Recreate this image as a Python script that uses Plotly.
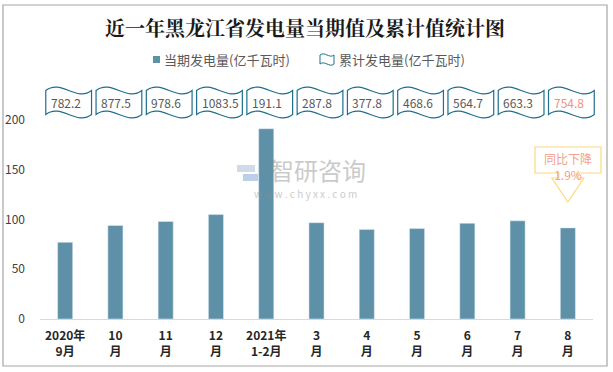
import plotly.graph_objects as go

# ---------------- data ----------------
categories = ["2020年<br>9月", "10<br>月", "11<br>月", "12<br>月", "2021年<br>1-2月",
              "3<br>月", "4<br>月", "5<br>月", "6<br>月", "7<br>月", "8<br>月"]
current_values = [77.0, 93.9, 98.0, 104.9, 191.1, 96.7, 90.0, 90.8, 96.1, 98.6, 91.5]
cumulative_values = ["782.2", "877.5", "978.6", "1083.5", "191.1", "287.8",
                     "377.8", "468.6", "564.7", "663.3", "754.8"]
y_ticks = [0, 50, 100, 150, 200]
callout_text = "同比下降<br>1.9%"
title_text = "近一年黑龙江省发电量当期值及累计值统计图"
legend_bar = "当期发电量(亿千瓦时)"
legend_flag = "累计发电量(亿千瓦时)"

# ---------------- styling / layout ----------------
W, H = 613, 372
ML, MR, MT, MB = 40, 20, 85, 53
BAR_COLOR = "#5E91A8"
FLAG_LINE = "#1F6E8C"
TEXT_GRAY = "#595959"
HIGHLIGHT = "#F4917A"
FONT = "Noto Sans CJK SC"
n = len(categories)
x_idx = list(range(n))
Y_MAX = 235

PW = W - ML - MR
PH = H - MT - MB


def px_x(px):
    return (px - ML) / PW


def px_y(py):
    return (H - MB - py) / PH


def idx_to_paper(i):
    return (i + 0.5) / n


fig = go.Figure()
fig.add_trace(go.Bar(x=x_idx, y=current_values, marker_color=BAR_COLOR, width=0.3,
                     showlegend=False, hoverinfo="y"))

shapes = []
annotations = []

# outer frame
shapes.append(dict(type="rect", xref="paper", yref="paper",
                   x0=px_x(3), x1=px_x(607), y0=px_y(366), y1=px_y(5),
                   line=dict(color="#A6A6A6", width=1.2), layer="below"))

# wave banners holding cumulative values
cat_w = 1.0 / n
for i, val in enumerate(cumulative_values):
    xc = idx_to_paper(i) + 0.07 * cat_w
    L = xc - 0.455 * cat_w
    R = xc + 0.455 * cat_w
    w = R - L
    yt, yb = px_y(90.5), px_y(114.5)
    c = px_y(0) - px_y(12)
    path = (f"M {L},{yt} C {L + w/3},{yt + c} {L + 2*w/3},{yt - c} {R},{yt} "
            f"L {R},{yb} C {L + 2*w/3},{yb - c} {L + w/3},{yb + c} {L},{yb} Z")
    shapes.append(dict(type="path", xref="paper", yref="paper", path=path,
                       line=dict(color=FLAG_LINE, width=1.2), fillcolor="white"))
    annotations.append(dict(xref="paper", yref="paper", x=L + 0.06 * cat_w, y=px_y(103),
                            text=val, showarrow=False, xanchor="left", yanchor="middle",
                            font=dict(family=FONT, size=12,
                                      color=HIGHLIGHT if i == n - 1 else TEXT_GRAY)))

# callout above the last bar
cx = idx_to_paper(n - 1)
bx0, bx1 = px_x(535), px_x(601)
by0, by1 = px_y(173), px_y(147)
sx = 9 / PW
shx = 16 / PW
call_path = (f"M {bx0},{by1} L {bx1},{by1} L {bx1},{by0} L {cx + sx},{by0} "
             f"L {cx + sx},{px_y(178)} L {cx + shx},{px_y(178)} L {cx},{px_y(202)} "
             f"L {cx - shx},{px_y(178)} L {cx - sx},{px_y(178)} L {cx - sx},{by0} "
             f"L {bx0},{by0} Z")
shapes.append(dict(type="path", xref="paper", yref="paper", path=call_path,
                   line=dict(color="#FFD880", width=1.2), fillcolor="white"))
annotations.append(dict(xref="paper", yref="paper", x=(bx0 + bx1) / 2, y=px_y(166),
                        text=callout_text, showarrow=False, xanchor="center", yanchor="middle",
                        font=dict(family=FONT, size=12, color="#F4A08A")))

# legend (manual)
shapes.append(dict(type="rect", xref="paper", yref="paper",
                   x0=px_x(153), x1=px_x(160), y0=px_y(63), y1=px_y(56),
                   fillcolor=BAR_COLOR, line=dict(width=0)))
annotations.append(dict(xref="paper", yref="paper", x=px_x(162), y=px_y(59.5),
                        text=legend_bar, showarrow=False, xanchor="left", yanchor="middle",
                        font=dict(family=FONT, size=13, color=TEXT_GRAY)))
lx0, lx1 = px_x(320), px_x(334)
lyt, lyb = px_y(55), px_y(64)
lc = px_y(0) - px_y(4)
lw = lx1 - lx0
shapes.append(dict(type="path", xref="paper", yref="paper",
                   path=(f"M {lx0},{lyt} C {lx0 + lw/3},{lyt + lc} {lx0 + 2*lw/3},{lyt - lc} {lx1},{lyt} "
                         f"L {lx1},{lyb} C {lx0 + 2*lw/3},{lyb - lc} {lx0 + lw/3},{lyb + lc} {lx0},{lyb} Z"),
                   line=dict(color=FLAG_LINE, width=1), fillcolor="white"))
annotations.append(dict(xref="paper", yref="paper", x=px_x(337), y=px_y(59.5),
                        text=legend_flag, showarrow=False, xanchor="left", yanchor="middle",
                        font=dict(family=FONT, size=13, color=TEXT_GRAY)))

# title
annotations.append(dict(xref="paper", yref="paper", x=px_x(305), y=px_y(27),
                        text="<b>" + title_text + "</b>", showarrow=False,
                        xanchor="center", yanchor="middle",
                        font=dict(family="Noto Serif CJK SC, " + FONT, size=20, color="#1a1a1a")))

# watermark
shapes.append(dict(type="rect", xref="paper", yref="paper",
                   x0=px_x(237), x1=px_x(255), y0=px_y(172), y1=px_y(165),
                   fillcolor="rgba(170,190,215,0.55)", line=dict(width=0), layer="below"))
shapes.append(dict(type="rect", xref="paper", yref="paper",
                   x0=px_x(243), x1=px_x(258), y0=px_y(181), y1=px_y(174),
                   fillcolor="rgba(120,160,210,0.5)", line=dict(width=0), layer="below"))
annotations.append(dict(xref="paper", yref="paper", x=px_x(318), y=px_y(169),
                        text="智研咨询", showarrow=False, xanchor="center", yanchor="middle",
                        opacity=0.45,
                        font=dict(family=FONT, size=24, color="#8c8c8c")))
annotations.append(dict(xref="paper", yref="paper", x=px_x(305), y=px_y(193),
                        text="w w w . c h y x x . c o m", showarrow=False,
                        xanchor="center", yanchor="middle", opacity=0.45,
                        font=dict(family=FONT, size=10, color="#8c8c8c")))

fig.update_layout(
    width=W, height=H,
    margin=dict(l=ML, r=MR, t=MT, b=MB),
    paper_bgcolor="white", plot_bgcolor="white",
    shapes=shapes, annotations=annotations,
    showlegend=False, bargap=0.7,
    xaxis=dict(range=[-0.5, n - 0.5], tickmode="array", tickvals=x_idx,
               ticktext=["<b>" + c.replace("<br>", "</b><br><b>") + "</b>" for c in categories],
               showgrid=False, zeroline=False, showline=True, linecolor="#D9D9D9", linewidth=1,
               ticks="", ticklabelstandoff=6,
               tickfont=dict(family=FONT, size=12, color="#262626"),
               automargin=False, fixedrange=True),
    yaxis=dict(range=[0, Y_MAX], tickmode="array", tickvals=y_ticks,
               showgrid=False, zeroline=False, showline=False, ticks="",
               ticklabelstandoff=14, automargin=False,
               tickfont=dict(family=FONT, size=12, color="#404040"), fixedrange=True),
)

fig.write_html("out.html", config={"displayModeBar": False},
               post_script="document.body.style.margin='0';document.body.style.overflow='hidden';")
